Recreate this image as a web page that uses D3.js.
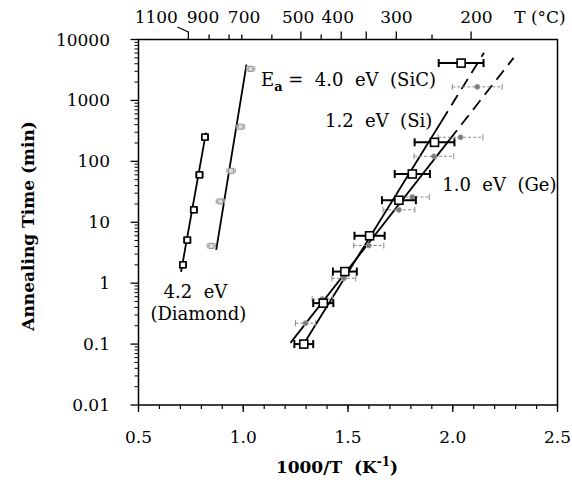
<!DOCTYPE html>
<html><head><meta charset="utf-8">
<script src="https://cdn.jsdelivr.net/npm/d3@7"></script>
<style>body{margin:0;background:#fff}</style>
</head><body>
<svg id="c" width="572" height="485"></svg>
<script>
// ---- data ----
const yTicks = [0.01, 0.1, 1, 10, 100, 1000, 10000];
const yTickLabels = ["0.01", "0.1", "1", "10", "100", "1000", "10000"];
const xTicks = [0.5, 1.0, 1.5, 2.0, 2.5];
const xTickLabels = ["0.5", "1.0", "1.5", "2.0", "2.5"];
// top temperature axis: tick temps (°C) and their positions in 1000/T
const tempTicks = [1100, 900, 800, 700, 600, 500, 450, 400, 350, 300, 250, 200];
const tempTickPos = [0.738, 0.837, 0.9325, 0.993, 1.1366, 1.275, 1.372, 1.4677, 1.587, 1.7306, 1.901, 2.0876];
const tempLong = [1100, 500, 400, 350, 300, 200];
const tempLabels = ["1100", "900", "700", "500", "400", "300", "200"];
const tempLabelPos = [0.585, 0.808, 1.004, 1.262, 1.451, 1.731, 2.113];

// Si (black squares)
const siX = [1.289, 1.382, 1.485, 1.603, 1.743, 1.807, 1.913, 2.040];
const siY = [0.10, 0.47, 1.55, 6.0, 23, 62, 205, 4100];
const siErr = [0.045, 0.048, 0.057, 0.072, 0.081, 0.084, 0.095, 0.107];
// Ge (gray circles)
const geX = [1.297, 1.377, 1.480, 1.599, 1.743, 1.807, 1.910, 2.037, 2.117];
const geY = [0.22, 0.55, 1.2, 4.15, 16, 26, 121, 248, 1670];
const geErr = [0.048, 0.048, 0.057, 0.072, 0.076, 0.081, 0.095, 0.107, 0.119];
// Diamond
const diaX = [0.712, 0.733, 0.764, 0.791, 0.817];
const diaY = [2.0, 5.1, 16, 60, 250];
const diaErr = [0.015, 0.015, 0.015, 0.015, 0.015];
// SiC
const sicX = [0.848, 0.891, 0.942, 0.987, 1.035];
const sicY = [4.1, 22, 70, 370, 3300];
const sicErr = [0.02, 0.02, 0.02, 0.02, 0.02];

// fit lines [x, t]
const diaLine = [[0.703, 1.53], [0.822, 296]];
const sicLine = [[0.871, 3.53], [1.0155, 3880]];
const siLineSolid = [[1.281, 0.091], [1.946, 452]];
const siLineDash = [[1.946, 452], [2.149, 6040]];
const geLineSolid = [[1.2255, 0.1045], [1.985, 227]];
const geLineDash = [[1.985, 227], [2.2905, 5000]];

// ---- chart ----
const svg = d3.select("#c");
const L = 138.5, R = 557.5, T = 39.5, B = 405;
const x = d3.scaleLinear().domain([0.5, 2.5]).range([L, R]);
const y = d3.scaleLog().domain([0.01, 10000]).range([B, T]);
const FONT = "DejaVu Serif";
const ink = "#000";

const g = svg.append("g");

// frame
g.append("rect").attr("x", L).attr("y", T).attr("width", R - L).attr("height", B - T)
  .attr("fill", "none").attr("stroke", ink).attr("stroke-width", 1.5);

// y ticks (left only)
const yMinor = [];
for (let e = -2; e < 4; e++) for (let m = 2; m <= 9; m++) yMinor.push(m * Math.pow(10, e));
g.selectAll(".ymin").data(yMinor).enter().append("line")
  .attr("x1", L - 4).attr("x2", L).attr("y1", d => y(d)).attr("y2", d => y(d))
  .attr("stroke", ink).attr("stroke-width", 1);
g.selectAll(".ymaj").data(yTicks).enter().append("line")
  .attr("x1", L - 8).attr("x2", L).attr("y1", d => y(d)).attr("y2", d => y(d))
  .attr("stroke", ink).attr("stroke-width", 1.3);

g.selectAll(".ylab").data(yTicks).enter().append("text")
  .attr("x", 110).attr("y", d => y(d) + 6)
  .attr("text-anchor", "end").attr("font-family", FONT).attr("font-size", 17)
  .text((d, i) => yTickLabels[i]);

// x ticks
const xMinor = d3.range(0.5, 2.501, 0.1);
g.selectAll(".xmin").data(xMinor).enter().append("line")
  .attr("x1", d => x(d)).attr("x2", d => x(d)).attr("y1", B).attr("y2", B + 4)
  .attr("stroke", ink).attr("stroke-width", 1.2);
g.selectAll(".xmaj").data(xTicks).enter().append("line")
  .attr("x1", d => x(d)).attr("x2", d => x(d)).attr("y1", B).attr("y2", B + 7)
  .attr("stroke", ink).attr("stroke-width", 1.3);
g.selectAll(".xlab").data(xTicks).enter().append("text")
  .attr("x", d => x(d)).attr("y", 443)
  .attr("text-anchor", "middle").attr("font-family", FONT).attr("font-size", 17)
  .text((d, i) => xTickLabels[i]);

// top temperature axis
const tx = t => x(tempTickPos[tempTicks.indexOf(t)]);
g.selectAll(".ttick").data(tempTicks).enter().append("line")
  .attr("x1", d => tx(d)).attr("x2", d => tx(d))
  .attr("y1", T).attr("y2", d => tempLong.includes(d) ? T - 8 : T - 5)
  .attr("stroke", ink).attr("stroke-width", 1.3);
g.selectAll(".tlab").data(tempLabels).enter().append("text")
  .attr("x", (d, i) => x(tempLabelPos[i])).attr("y", 23)
  .attr("text-anchor", "middle").attr("font-family", FONT).attr("font-size", 17)
  .text(d => d);
// leader from 1100 label to its tick
g.append("path").attr("d", `M${tx(1100) - 11},27 L${tx(1100)},32`)
  .attr("stroke", ink).attr("stroke-width", 1.2).attr("fill", "none");
g.append("text").attr("x", 540).attr("y", 23).attr("text-anchor", "middle")
  .attr("font-family", FONT).attr("font-size", 17).text("T (\u00B0C)");

// axis titles
g.append("text").attr("transform", "translate(34,226) rotate(-90)")
  .attr("text-anchor", "middle").attr("font-family", FONT).attr("font-weight", "bold")
  .attr("font-size", 17).text("Annealing Time (min)");
const xt = g.append("text").attr("x", 337).attr("y", 473).attr("text-anchor", "middle")
  .attr("font-family", FONT).attr("font-weight", "bold").attr("font-size", 17)
  .attr("xml:space", "preserve");
xt.append("tspan").text("1000/T  (K");
xt.append("tspan").attr("dy", -7).attr("font-size", 12).text("-1");
xt.append("tspan").attr("dy", 7).text(")");

// lines
const lg = d3.line().x(d => x(d[0])).y(d => y(d[1]));
function drawLine(data, dash) {
  g.append("path").attr("d", lg(data)).attr("fill", "none").attr("stroke", ink)
    .attr("stroke-width", 1.8).attr("stroke-dasharray", dash || null);
}
drawLine(diaLine);
drawLine(sicLine);
drawLine(siLineSolid);
drawLine(siLineDash, "12,7");
drawLine(geLineSolid);
drawLine(geLineDash, "12,7");

// error bars helper
function errBars(xs, ys, es, color, width, cap, dash) {
  const eg = g.append("g");
  xs.forEach((xv, i) => {
    const yy = y(ys[i]);
    eg.append("line").attr("x1", x(xv - es[i])).attr("x2", x(xv + es[i]))
      .attr("y1", yy).attr("y2", yy).attr("stroke", color).attr("stroke-width", width)
      .attr("stroke-dasharray", dash || null);
    [xv - es[i], xv + es[i]].forEach(c => {
      eg.append("line").attr("x1", x(c)).attr("x2", x(c)).attr("y1", yy - cap).attr("y2", yy + cap)
        .attr("stroke", color).attr("stroke-width", width);
    });
  });
}

// Ge (gray)
errBars(geX, geY, geErr, "#8a8a8a", 1, 3, "3,2");
g.selectAll(".ge").data(geX).enter().append("circle")
  .attr("cx", d => x(d)).attr("cy", (d, i) => y(geY[i])).attr("r", 2.6)
  .attr("fill", "#7a7a7a").attr("stroke", "#aaa").attr("stroke-width", 0.8);

// Si (black squares)
errBars(siX, siY, siErr, ink, 2, 4);
g.selectAll(".si").data(siX).enter().append("rect")
  .attr("x", d => x(d) - 4).attr("y", (d, i) => y(siY[i]) - 4).attr("width", 8).attr("height", 8)
  .attr("fill", "#fff").attr("stroke", ink).attr("stroke-width", 1.6);

// SiC (light gray)
errBars(sicX, sicY, sicErr, "#a0a0a0", 1, 2.5);
g.selectAll(".sic").data(sicX).enter().append("rect")
  .attr("x", d => x(d) - 2.5).attr("y", (d, i) => y(sicY[i]) - 2.5).attr("width", 5).attr("height", 5)
  .attr("fill", "#ddd").attr("stroke", "#909090").attr("stroke-width", 1);

// Diamond (black)
errBars(diaX, diaY, diaErr, ink, 1.6, 3);
g.selectAll(".dia").data(diaX).enter().append("rect")
  .attr("x", d => x(d) - 3).attr("y", (d, i) => y(diaY[i]) - 3).attr("width", 6).attr("height", 6)
  .attr("fill", "#fff").attr("stroke", ink).attr("stroke-width", 1.6);

// annotations
function ann(xv, yv, txt, anchor) {
  return g.append("text").attr("x", x(xv)).attr("y", y(yv)).attr("text-anchor", anchor || "start")
    .attr("font-family", FONT).attr("font-size", 18).attr("xml:space", "preserve").text(txt);
}
const ea = g.append("text").attr("x", x(1.085)).attr("y", y(1750)).attr("font-family", FONT)
  .attr("font-size", 18).attr("xml:space", "preserve");
ea.append("tspan").text("E");
ea.append("tspan").attr("dy", 5).attr("font-size", 13).attr("font-weight", "bold").text("a");
ea.append("tspan").attr("dy", -5).text(" =  4.0  eV  (SiC)");
ann(1.39, 370, "1.2  eV  (Si)");
ann(1.95, 33, "1.0  eV  (Ge)");
ann(0.772, 0.57, "4.2  eV", "middle");
ann(0.786, 0.25, "(Diamond)", "middle");
</script>
</body></html>
